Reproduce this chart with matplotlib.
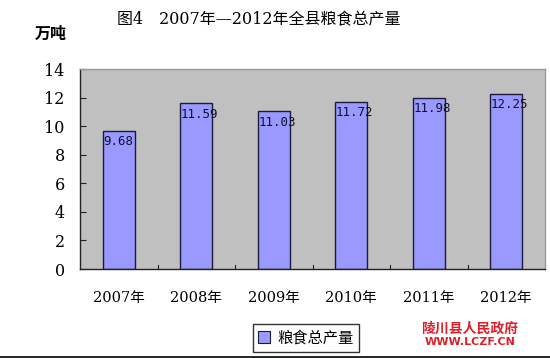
import matplotlib
matplotlib.use("Agg")
import matplotlib.pyplot as plt
from matplotlib.patches import Patch
from matplotlib.lines import Line2D

categories = ["2007年", "2008年", "2009年", "2010年", "2011年", "2012年"]
values = [9.68, 11.59, 11.03, 11.72, 11.98, 12.25]
value_labels = ["9.68", "11.59", "11.03", "11.72", "11.98", "12.25"]
yticks = [0, 2, 4, 6, 8, 10, 12, 14]
series_name = "粮食总产量"
title = "图4　2007年—2012年全县粮食总产量"
unit = "万吨"

plt.rcParams['font.family'] = ['DejaVu Serif', 'Noto Sans CJK SC']

W, H = 550, 358
fig = plt.figure(figsize=(W / 100, H / 100), dpi=100)
fig.patch.set_facecolor('white')
ax = fig.add_axes([80 / W, 1 - 269 / H, (545 - 80) / W, (269 - 69) / H])
ax.set_facecolor('#c0c0c0')

x = list(range(len(categories)))
bars = ax.bar(x, values, width=0.41, color='#9999ff', edgecolor='#1a1a3a', linewidth=1.0)
ax.set_xlim(-0.5, len(categories) - 0.5)
ax.set_ylim(0, 14)

for xi, v, lab in zip(x, values, value_labels):
    ax.text(xi - 0.2, v - 0.3, lab, ha='left', va='top', fontsize=9,
            family=['DejaVu Sans Mono'], color='#101030')

ax.set_yticks(yticks)
ax.set_yticklabels([str(t) for t in yticks], fontsize=11.5)
ax.set_xticks(x)
ax.set_xticklabels(categories, fontsize=10.5)
ax.tick_params(axis='x', length=0, pad=16)
ax.tick_params(axis='y', direction='in', length=4, pad=11, color='#222')
# category boundary ticks on x axis
for b in [i + 0.5 for i in range(len(categories) - 1)]:
    ax.plot([b, b], [0, 0.25], color='#222', linewidth=0.8, clip_on=False)

for s in ['top', 'right']:
    ax.spines[s].set_color('#999999')
    ax.spines[s].set_linewidth(1.0)
for s in ['left', 'bottom']:
    ax.spines[s].set_color('#222222')
    ax.spines[s].set_linewidth(1.0)

fig.text(259 / W, 1 - 20 / H, title, ha='center', va='center', fontsize=11.5)
fig.text(51 / W, 1 - 34 / H, unit, ha='center', va='center', fontsize=11.5,
         family=['Noto Sans CJK SC'], weight='bold')

handle = Patch(facecolor='#9999ff', edgecolor='#1a1a3a', linewidth=0.8)
leg = fig.legend([handle], [series_name], loc='center', bbox_to_anchor=(306 / W, 1 - 338 / H),
                 frameon=True, fancybox=False, edgecolor='black',
                 handlelength=0.8, handleheight=0.8, handletextpad=0.5,
                 borderpad=0.35, prop={'family': ['Noto Sans CJK SC'], 'size': 11})
leg.get_frame().set_linewidth(1.0)

fig.text(470 / W, 1 - 329 / H, "陵川县人民政府", ha='center', va='center', fontsize=10,
         family=['Noto Sans CJK SC'], weight='bold', color='#e0202a')
fig.text(470 / W, 1 - 342 / H, "WWW.LCZF.CN", ha='center', va='center', fontsize=8,
         family=['DejaVu Sans'], weight='bold', color='#e0202a')

fig.add_artist(Line2D([0, 1], [1 - 357 / H, 1 - 357 / H], color='black', linewidth=1.2,
                      transform=fig.transFigure))

fig.savefig('out.png', dpi=100)
